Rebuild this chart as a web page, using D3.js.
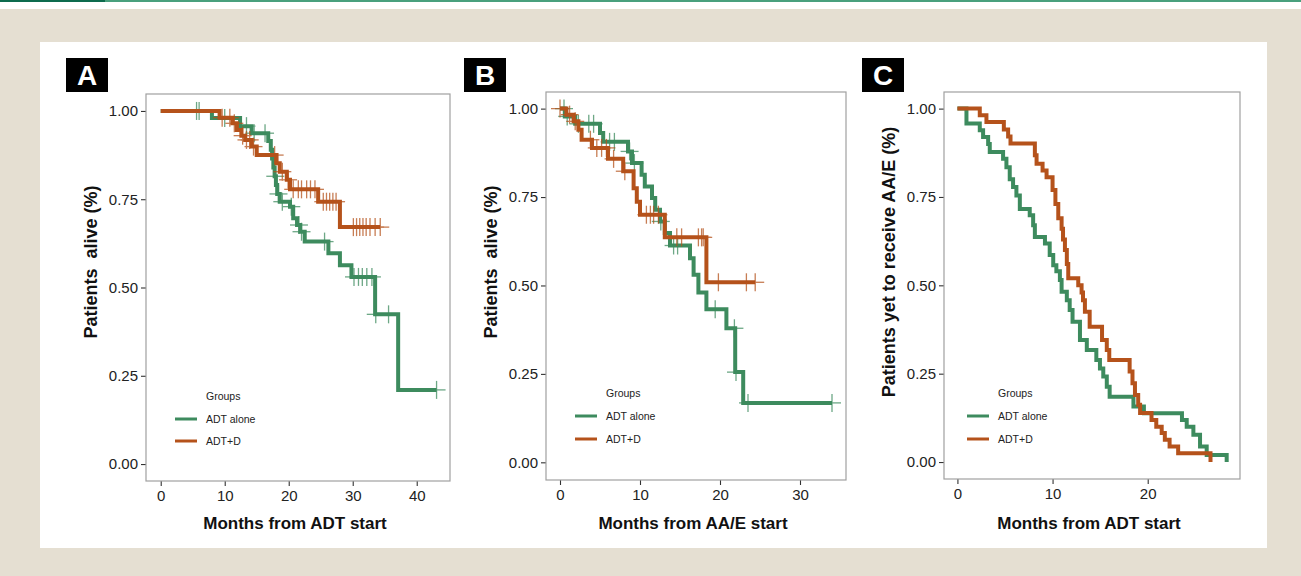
<!DOCTYPE html>
<html>
<head>
<meta charset="utf-8">
<script src="https://cdn.jsdelivr.net/npm/d3@7"></script>
<style>
  html, body { margin: 0; padding: 0; background: #fff; }
  svg { display: block; font-family: "Liberation Sans", Arial, sans-serif; }
</style>
</head>
<body>
<svg id="chart" width="1301" height="576"></svg>
<script>
// groups and colours
const groupNames = ["ADT alone", "ADT+D"];
const groupColors = ["#3d8b5e", "#b5521b"];

// Panel A: overall survival from ADT start
const aGreenT = [0, 8.0, 12.4, 14.2, 16.8, 17.2, 17.4, 17.6, 17.8, 18.0, 18.2, 18.6, 20.2, 20.7, 21.3, 21.8, 22.5, 26.2, 28.0, 29.8, 33.5, 37.1];
const aGreenS = [1, 0.98, 0.957, 0.937, 0.915, 0.89, 0.865, 0.84, 0.815, 0.79, 0.765, 0.743, 0.729, 0.696, 0.677, 0.658, 0.63, 0.597, 0.563, 0.53, 0.424, 0.21];
const aGreenEnd = 43.1;
const aGreenCens = [5.6, 6.0, 10.0, 13.4, 14.6, 16.3, 17.9, 18.4, 19.0, 20.4, 21.6, 22.0, 25.6, 30.2, 30.9, 31.5, 32.2, 33.0, 33.6, 35.6, 43.1];
const aOrangeT = [0, 9.2, 11.2, 11.9, 12.6, 13.2, 14.2, 15.0, 18.1, 18.6, 19.7, 20.2, 24.6, 28.0];
const aOrangeS = [1, 0.981, 0.965, 0.946, 0.93, 0.918, 0.899, 0.875, 0.852, 0.828, 0.805, 0.778, 0.743, 0.671];
const aOrangeEnd = 34.3;
const aOrangeCens = [9.6, 10.8, 11.5, 12.8, 13.4, 13.9, 14.5, 17.8, 19.0, 19.9, 20.7, 21.5, 22.0, 22.8, 23.4, 24.1, 25.4, 25.9, 26.4, 26.9, 27.4, 30.1, 30.6, 31.1, 31.6, 32.1, 32.7, 33.5, 34.3];

// Panel B: survival from AA/E start
const bGreenT = [0, 0.6, 1.9, 5.0, 5.4, 8.5, 9.0, 10.2, 10.6, 11.5, 11.9, 12.5, 13.1, 13.75, 16.25, 16.7, 17.3, 18.3, 20.8, 21.9, 22.9];
const bGreenS = [1, 0.978, 0.957, 0.931, 0.906, 0.879, 0.846, 0.813, 0.78, 0.747, 0.714, 0.681, 0.648, 0.613, 0.577, 0.53, 0.48, 0.433, 0.379, 0.255, 0.168];
const bGreenEnd = 34.0;
const bGreenCens = [0.5, 0.9, 2.3, 3.6, 4.2, 6.2, 6.8, 8.7, 9.3, 12.6, 14.2, 14.7, 19.4, 21.8, 22.0, 23.5, 34.0];
const bOrangeT = [0, 0.8, 1.7, 2.3, 2.7, 4.0, 6.0, 7.9, 9.2, 9.6, 10.0, 13.1, 18.3];
const bOrangeS = [1, 0.983, 0.964, 0.94, 0.912, 0.889, 0.858, 0.823, 0.775, 0.737, 0.70, 0.636, 0.509];
const bOrangeEnd = 24.4;
const bOrangeCens = [0, 1.2, 1.9, 3.8, 4.6, 5.2, 5.8, 6.7, 8.1, 10.8, 11.3, 11.7, 12.3, 14.6, 15.2, 17.3, 17.7, 17.9, 19.8, 23.3, 24.4];

// Panel C: time to AA/E
const cGreenT = [0, 0.95, 2.35, 2.7, 3.23, 3.4, 4.8, 5.15, 5.5, 5.85, 6.2, 6.56, 7.6, 7.96, 8.14, 9.2, 9.7, 10.07, 10.4, 10.77, 10.95, 11.5, 11.8, 12.1, 12.88, 13.6, 14.6, 14.98, 15.33, 15.7, 16.0, 18.5, 19.6, 23.6, 24.1, 24.8, 25.5, 26.2, 28.3];
const cGreenS = [1, 0.958, 0.939, 0.92, 0.9, 0.877, 0.858, 0.834, 0.80, 0.778, 0.754, 0.716, 0.698, 0.67, 0.637, 0.618, 0.586, 0.557, 0.54, 0.515, 0.482, 0.458, 0.43, 0.397, 0.345, 0.317, 0.289, 0.265, 0.242, 0.213, 0.185, 0.157, 0.138, 0.119, 0.1, 0.077, 0.044, 0.02, 0];
const cGreenEnd = 28.3;
const cOrangeT = [0, 2.35, 3.05, 4.88, 5.33, 5.58, 8.14, 8.32, 8.95, 9.37, 10.0, 10.3, 10.6, 10.95, 11.1, 11.3, 11.5, 11.65, 12.7, 13.05, 13.2, 13.4, 13.9, 15.2, 15.7, 15.96, 18.1, 18.4, 18.66, 19.0, 19.2, 20.4, 20.9, 21.47, 21.8, 22.3, 23.2, 26.6];
const cOrangeS = [1, 0.981, 0.962, 0.941, 0.921, 0.901, 0.868, 0.844, 0.825, 0.806, 0.77, 0.73, 0.69, 0.66, 0.63, 0.6, 0.56, 0.52, 0.5, 0.48, 0.458, 0.425, 0.383, 0.345, 0.317, 0.289, 0.256, 0.223, 0.19, 0.162, 0.139, 0.119, 0.1, 0.082, 0.063, 0.044, 0.025, 0];
const cOrangeEnd = 26.6;

const yTickValues = [0, 0.25, 0.5, 0.75, 1];

const panels = [
    { tag: "A", box: [146, 94, 450, 481], xDom: [-2.3, 45.2], yDom: [-0.048, 1.048], xTicks: [0, 10, 20, 30, 40],
      yTitle: "Patients  alive (%)", xTitle: "Months from ADT start", legend: [175, 396, 419, 441],
      curves: [
          { T: aGreenT, S: aGreenS, end: aGreenEnd, cens: aGreenCens },
          { T: aOrangeT, S: aOrangeS, end: aOrangeEnd, cens: aOrangeCens }
      ] },
    { tag: "B", box: [546, 92, 846, 480], xDom: [-1.75, 35.75], yDom: [-0.05, 1.047], xTicks: [0, 10, 20, 30],
      yTitle: "Patients  alive (%)", xTitle: "Months from AA/E start", legend: [575, 393, 416, 439],
      curves: [
          { T: bGreenT, S: bGreenS, end: bGreenEnd, cens: bGreenCens },
          { T: bOrangeT, S: bOrangeS, end: bOrangeEnd, cens: bOrangeCens }
      ] },
    { tag: "C", box: [944, 92, 1240, 479], xDom: [-1.41, 29.7], yDom: [-0.048, 1.047], xTicks: [0, 10, 20],
      yTitle: "Patients yet to receive AA/E (%)", xTitle: "Months from ADT start", legend: [967, 393, 416, 439],
      curves: [
          { T: cGreenT, S: cGreenS, end: cGreenEnd, cens: [] },
          { T: cOrangeT, S: cOrangeS, end: cOrangeEnd, cens: [] }
      ] }
];

const svg = d3.select("#chart");

// page background
svg.append("rect").attr("width", 1301).attr("height", 576).attr("fill", "#fff");
svg.append("rect").attr("y", 9).attr("width", 1301).attr("height", 567).attr("fill", "#e5dfd2");
svg.append("rect").attr("width", 105).attr("height", 2).attr("fill", "#0d6b4d");
svg.append("rect").attr("x", 105).attr("width", 1196).attr("height", 2).attr("fill", "#49a07d");
svg.append("rect").attr("x", 40).attr("y", 42).attr("width", 1227).attr("height", 506).attr("fill", "#fff");

function survAt(c, t) {
    let s = c.S[0];
    for (let i = 0; i < c.T.length; i++) if (c.T[i] <= t) s = c.S[i];
    return s;
}

panels.forEach((p, pi) => {
    const [x0, y0, x1, y1] = p.box;
    const x = d3.scaleLinear().domain(p.xDom).range([x0, x1]);
    const y = d3.scaleLinear().domain(p.yDom).range([y1, y0]);
    const g = svg.append("g");

    // tag box
    const tx = [66, 464, 862][pi];
    g.append("rect").attr("x", tx).attr("y", 58).attr("width", 42).attr("height", 34).attr("fill", "#000");
    g.append("text").attr("x", tx + 21).attr("y", 75).attr("dy", "0.36em")
        .attr("text-anchor", "middle").attr("fill", "#fff")
        .style("font-size", "28px").style("font-weight", "bold").text(p.tag);

    // axes
    const xAxis = g.append("g").attr("transform", `translate(0,${y1})`)
        .call(d3.axisBottom(x).tickValues(p.xTicks).tickSize(5).tickPadding(4).tickFormat(d3.format("d")));
    const yAxis = g.append("g").attr("transform", `translate(${x0},0)`)
        .call(d3.axisLeft(y).tickValues(yTickValues).tickSize(5).tickPadding(3).tickFormat(d3.format(".2f")));
    [xAxis, yAxis].forEach(a => {
        a.select(".domain").remove();
        a.selectAll(".tick line").attr("stroke", "#333").attr("stroke-width", 1.1);
        a.selectAll(".tick text").attr("fill", "#222").style("font-size", "15px")
            .style("font-family", "'Liberation Sans', Arial, sans-serif");
    });

    // border
    g.append("rect").attr("x", x0).attr("y", y0).attr("width", x1 - x0).attr("height", y1 - y0)
        .attr("fill", "none").attr("stroke", "#a0a0a0").attr("stroke-width", 1.2);

    // titles
    g.append("text").attr("transform", `translate(${x0 - 55},262) rotate(-90)`)
        .attr("text-anchor", "middle").attr("dy", "0.36em")
        .style("font-size", "18px").style("font-weight", "bold").style("white-space", "pre")
        .attr("fill", "#111").text(p.yTitle);
    g.append("text").attr("x", (x0 + x1) / 2 - 3).attr("y", 523).attr("dy", "0.36em")
        .attr("text-anchor", "middle").style("font-size", "17px").style("font-weight", "bold")
        .attr("fill", "#111").text(p.xTitle);

    // curves
    const line = d3.line().x(d => x(d[0])).y(d => y(d[1])).curve(d3.curveStepAfter);
    p.curves.forEach((c, ci) => {
        const pts = c.T.map((t, i) => [t, c.S[i]]);
        pts.push([c.end, c.S[c.S.length - 1]]);
        g.append("path").datum(pts).attr("d", line)
            .attr("fill", "none").attr("stroke", groupColors[ci])
            .attr("stroke-width", 4).attr("stroke-linejoin", "miter").attr("stroke-linecap", "butt");
        const marks = g.append("g").attr("stroke", groupColors[ci]).attr("stroke-width", 1.3).attr("opacity", 0.75);
        c.cens.forEach(t => {
            const cx = x(t), cy = y(survAt(c, t));
            marks.append("line").attr("x1", cx).attr("x2", cx).attr("y1", cy - 9).attr("y2", cy + 9);
            marks.append("line").attr("x1", cx - 9).attr("x2", cx + 9).attr("y1", cy).attr("y2", cy);
        });
    });

    // legend
    const [lx, gy, l1, l2] = p.legend;
    const lg = g.append("g").style("font-size", "10.5px").attr("fill", "#222");
    lg.append("text").attr("x", lx + 31).attr("y", gy).attr("dy", "0.36em").text("Groups");
    [l1, l2].forEach((ly, i) => {
        lg.append("line").attr("x1", lx).attr("x2", lx + 22).attr("y1", ly).attr("y2", ly)
            .attr("stroke", groupColors[i]).attr("stroke-width", 3);
        lg.append("text").attr("x", lx + 31).attr("y", ly).attr("dy", "0.36em").text(groupNames[i]);
    });
});
</script>
</body>
</html>
